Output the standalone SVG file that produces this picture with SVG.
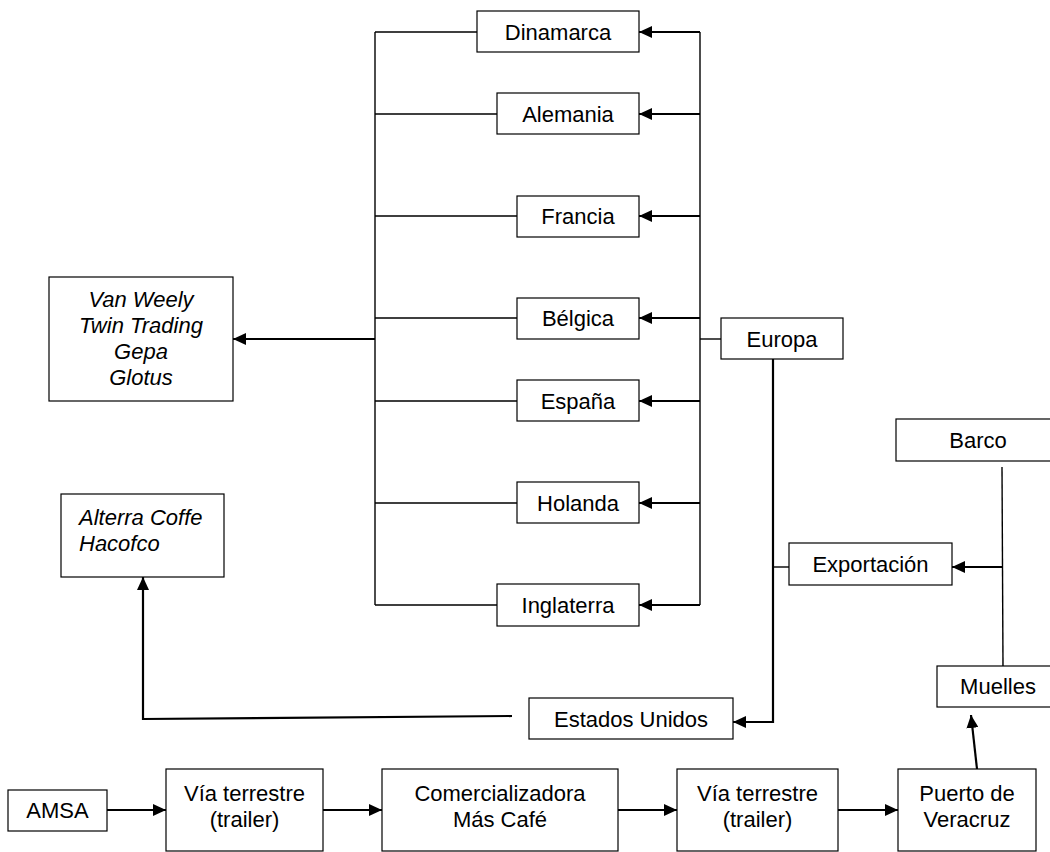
<svg xmlns="http://www.w3.org/2000/svg" width="1050" height="852" viewBox="0 0 1050 852">
<style>
.box{fill:#fff;stroke:#000;stroke-width:1.2}
.t{font-family:"Liberation Sans",Arial,sans-serif;font-size:22px;fill:#000;text-anchor:middle}
.ti{font-family:"Liberation Sans",Arial,sans-serif;font-size:22px;font-style:italic;fill:#000}
.ln{fill:none;stroke:#000;stroke-width:1.4}
.ar{fill:none;stroke:#000;stroke-width:2.2;marker-end:url(#ah)}
</style>
<defs>
<marker id="ah" markerUnits="userSpaceOnUse" markerWidth="13" markerHeight="12" refX="13" refY="6" orient="auto">
<path d="M0,0 L13,6 L0,12 z" fill="#000"/>
</marker>
</defs>
<rect width="1050" height="852" fill="#fff"/>
<g id="connectors">
<path class="ln" d="M375,32 V605"/>
<path class="ln" d="M375,32 H477 M375,114 H497 M375,216 H517 M375,318 H517 M375,401 H517 M375,503 H517 M375,605 H497"/>
<path class="ar" d="M375,339 H233"/>
<path class="ln" d="M700,32 V605"/>
<path class="ar" d="M700,32 H639"/>
<path class="ar" d="M700,114 H639"/>
<path class="ar" d="M700,216 H639"/>
<path class="ar" d="M700,318 H639"/>
<path class="ar" d="M700,401 H639"/>
<path class="ar" d="M700,503 H639"/>
<path class="ar" d="M700,605 H639"/>
<path class="ln" d="M700,339 H721"/>
<path class="ar" d="M773,359 V722 H733"/>
<path class="ln" d="M773,567 H789"/>
<path class="ln" d="M1002,467 L1003,666"/>
<path class="ar" d="M1002,567 H952"/>
<path class="ar" d="M512,716 L143,719 V577"/>
<path class="ar" d="M107,810 H166"/>
<path class="ar" d="M323,810 H382"/>
<path class="ar" d="M618,810 H677"/>
<path class="ar" d="M838,810 H898"/>
<path class="ar" d="M977,769 L971,715"/>
</g>
<g id="dinamarca"><rect class="box" x="477" y="11" width="162" height="41"/><text class="t" x="558" y="40">Dinamarca</text></g>
<g id="alemania"><rect class="box" x="497" y="93" width="142" height="41"/><text class="t" x="568" y="122">Alemania</text></g>
<g id="francia"><rect class="box" x="517" y="196" width="122" height="41"/><text class="t" x="578" y="224">Francia</text></g>
<g id="belgica"><rect class="box" x="517" y="298" width="122" height="41"/><text class="t" x="578" y="326">Bélgica</text></g>
<g id="espana"><rect class="box" x="517" y="380" width="122" height="41"/><text class="t" x="578" y="409">España</text></g>
<g id="holanda"><rect class="box" x="517" y="482" width="122" height="41"/><text class="t" x="578" y="511">Holanda</text></g>
<g id="inglaterra"><rect class="box" x="497" y="584" width="142" height="42"/><text class="t" x="568" y="613">Inglaterra</text></g>
<g id="europa"><rect class="box" x="721" y="318" width="122" height="41"/><text class="t" x="782" y="347">Europa</text></g>
<g id="exportacion"><rect class="box" x="789" y="543" width="163" height="42"/><text class="t" x="870.5" y="572">Exportación</text></g>
<g id="barco"><rect class="box" x="896" y="419" width="164" height="42"/><text class="t" x="978" y="448">Barco</text></g>
<g id="muelles"><rect class="box" x="937" y="666" width="123" height="41"/><text class="t" x="998" y="694">Muelles</text></g>
<g id="estados-unidos"><rect class="box" x="529" y="698" width="204" height="41"/><text class="t" x="631" y="727">Estados Unidos</text></g>
<g id="europe-buyers"><rect class="box" x="49" y="277" width="184" height="124"/>
<text class="ti" text-anchor="middle"><tspan x="141" y="307">Van Weely</tspan><tspan x="141" y="333">Twin Trading</tspan><tspan x="141" y="359">Gepa</tspan><tspan x="141" y="385">Glotus</tspan></text></g>
<g id="us-buyers"><rect class="box" x="61" y="494" width="163" height="83"/>
<text class="ti"><tspan x="79" y="525">Alterra Coffe</tspan><tspan x="79" y="551">Hacofco</tspan></text></g>
<g id="amsa"><rect class="box" x="8" y="790" width="99" height="41"/><text class="t" x="57.5" y="818">AMSA</text></g>
<g id="via1"><rect class="box" x="166" y="769" width="157" height="82"/><text class="t"><tspan x="244.5" y="801">Vía terrestre</tspan><tspan x="244.5" y="827">(trailer)</tspan></text></g>
<g id="comercializadora"><rect class="box" x="382" y="769" width="236" height="82"/><text class="t"><tspan x="500" y="801">Comercializadora</tspan><tspan x="500" y="827">Más Café</tspan></text></g>
<g id="via2"><rect class="box" x="677" y="769" width="161" height="82"/><text class="t"><tspan x="757.5" y="801">Vía terrestre</tspan><tspan x="757.5" y="827">(trailer)</tspan></text></g>
<g id="puerto"><rect class="box" x="898" y="769" width="138" height="82"/><text class="t"><tspan x="967" y="801">Puerto de</tspan><tspan x="967" y="827">Veracruz</tspan></text></g>
</svg>
